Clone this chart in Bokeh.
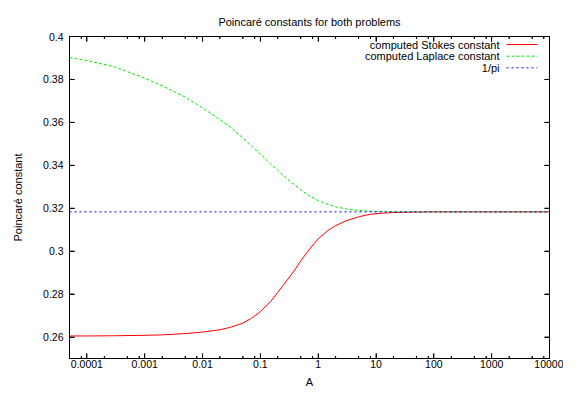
import math
from bokeh.plotting import figure
from bokeh.models import (LogAxis, LinearAxis, FixedTicker, CustomJSTickFormatter,
                          Span, Label, Arrow, Range1d)
from bokeh.embed import file_html
from bokeh.resources import INLINE

# ---------------- data ----------------
A_values = [5e-5, 1e-4, 3e-4, 1e-3, 2e-3, 5e-3, 0.01, 0.02, 0.03, 0.05, 0.07, 0.1, 0.15,
            0.2, 0.3, 0.4, 0.5, 0.7, 1, 1.5, 2, 3, 5, 7, 10, 20, 50, 100, 1000, 10000]
stokes_constant = [0.2605, 0.2605, 0.2606, 0.2608, 0.2610, 0.2616, 0.2623, 0.2634, 0.2645,
                   0.2665, 0.2687, 0.2718, 0.2765, 0.2808, 0.2870, 0.2915, 0.2955, 0.3008,
                   0.3058, 0.3098, 0.3119, 0.3141, 0.3160, 0.3169, 0.3175, 0.3180, 0.3182,
                   0.31831, 0.31831, 0.31831]
laplace_constant = [0.3902, 0.3888, 0.3859, 0.3806, 0.3770, 0.3718, 0.3667, 0.3613, 0.3578,
                    0.3527, 0.3490, 0.3452, 0.3407, 0.3377, 0.3333, 0.3306, 0.3285, 0.3258,
                    0.3236, 0.3217, 0.3207, 0.3197, 0.3190, 0.3187, 0.3185, 0.31837, 0.31832,
                    0.31831, 0.31831, 0.31831]
one_over_pi = 1 / math.pi

X_MIN, X_MAX = 5e-5, 1e4
Y_MIN, Y_MAX = 0.25, 0.40
x_ticks = [1e-4, 1e-3, 1e-2, 1e-1, 1, 10, 100, 1000, 10000]
x_tick_labels = ["0.0001", "0.001", "0.01", "0.1", "1", "10", "100", "1000", "10000"]
x_minor_mantissas = [2, 5, 8]
y_ticks = [0.26, 0.28, 0.30, 0.32, 0.34, 0.36, 0.38, 0.40]
y_tick_labels = ["0.26", "0.28", "0.3", "0.32", "0.34", "0.36", "0.38", "0.4"]

legend_labels = ["computed Stokes constant", "computed Laplace constant", "1/pi"]
title_text = "Poincaré constants for both problems"
x_label = "A"
y_label = "Poincaré constant"

# minor ticks built from the decades
x_minor_ticks = [m * d for d in [1e-5] + x_ticks for m in x_minor_mantissas
                 if X_MIN <= m * d <= X_MAX]

FONT = "Liberation Sans"
RED, GREEN, BLUE = "#ff0000", "#00ee00", "#0000ff"

p = figure(width=563, height=390, x_axis_type="log",
           x_range=Range1d(X_MIN, X_MAX), y_range=Range1d(Y_MIN, Y_MAX),
           output_backend="svg", toolbar_location=None,
           min_border_left=69, min_border_right=14, min_border_top=36, min_border_bottom=30)

p.background_fill_color = "white"
p.border_fill_color = "white"
p.outline_line_color = "black"
p.outline_line_width = 1
p.xgrid.visible = False
p.ygrid.visible = False

p.title.text = title_text
p.title.align = "center"
p.title.text_font = FONT
p.title.text_font_size = "11px"
p.title.text_font_style = "normal"
p.title.text_color = "black"
p.title.standoff = 17

xfmt = CustomJSTickFormatter(args=dict(vals=x_ticks, labels=x_tick_labels), code="""
const l = Math.log10(tick);
for (let i = 0; i < vals.length; i++) { if (Math.abs(Math.log10(vals[i]) - l) < 1e-6) return labels[i]; }
return "";
""")
yfmt = CustomJSTickFormatter(args=dict(vals=y_ticks, labels=y_tick_labels), code="""
for (let i = 0; i < vals.length; i++) { if (Math.abs(vals[i] - tick) < 1e-6) return labels[i]; }
return "";
""")
blank = CustomJSTickFormatter(code="return '';")

def style_axis(ax):
    ax.axis_line_color = "black"
    ax.major_tick_line_color = "black"
    ax.minor_tick_line_color = "black"
    ax.major_tick_in = 5
    ax.major_tick_out = 0
    ax.minor_tick_in = 2
    ax.minor_tick_out = 0
    ax.major_label_text_font = FONT
    ax.major_label_text_font_size = "10.5px"
    ax.major_label_text_color = "black"
    ax.axis_label_text_font = FONT
    ax.axis_label_text_font_size = "11px"
    ax.axis_label_text_font_style = "normal"
    ax.axis_label_text_color = "black"

xax = p.xaxis[0]
xax.ticker = FixedTicker(ticks=x_ticks, minor_ticks=x_minor_ticks)
xax.formatter = xfmt
style_axis(xax)
xax.major_label_standoff = 1
xax.axis_label = x_label
xax.axis_label_standoff = 5

yax = p.yaxis[0]
yax.ticker = FixedTicker(ticks=y_ticks)
yax.formatter = yfmt
style_axis(yax)
yax.minor_tick_line_color = None
yax.major_label_standoff = 6
yax.axis_label = y_label
yax.axis_label_standoff = 16

top = LogAxis(ticker=FixedTicker(ticks=x_ticks, minor_ticks=x_minor_ticks), formatter=blank)
style_axis(top)
top.major_label_standoff = 0
p.add_layout(top, "above")

right = LinearAxis(ticker=FixedTicker(ticks=y_ticks), formatter=blank)
style_axis(right)
right.minor_tick_line_color = None
right.major_label_standoff = 0
p.add_layout(right, "right")

# inward tick marks on all four borders (gnuplot style), placed by the scales
for yy in (Y_MIN, Y_MAX):
    p.scatter(x_ticks, [yy] * len(x_ticks), marker="dash", angle=math.pi / 2, size=10,
              line_color="black", line_width=1)
    p.scatter(x_minor_ticks, [yy] * len(x_minor_ticks), marker="dash", angle=math.pi / 2,
              size=5, line_color="black", line_width=1)
for xx in (X_MIN, X_MAX):
    p.scatter([xx] * len(y_ticks), y_ticks, marker="dash", size=10,
              line_color="black", line_width=1)

# ---------------- curves ----------------
p.line(A_values, stokes_constant, line_color=RED, line_width=1)
p.line(A_values, laplace_constant, line_color=GREEN, line_width=1, line_dash="3 2")
p.add_layout(Span(location=one_over_pi, dimension="width", line_color=BLUE,
                  line_width=1, line_dash="2 3"))

# ---------------- gnuplot-style key ----------------
key_colors = [RED, GREEN, BLUE]
key_dashes = ["solid", "3 2", "2 3"]
key_rows_y = [314, 302.3, 290.7]
for lab, col, dash, yy in zip(legend_labels, key_colors, key_dashes, key_rows_y):
    p.add_layout(Label(x=430, y=yy, x_units="screen", y_units="screen", text=lab,
                       text_align="right", text_baseline="middle", text_font=FONT,
                       text_font_size="11px", text_color="black"))
    p.add_layout(Arrow(end=None, x_start=437, y_start=yy, x_end=468, y_end=yy,
                       start_units="screen", end_units="screen",
                       line_color=col, line_width=1, line_dash=dash))

open("out.html", "w").write(file_html(p, INLINE))
